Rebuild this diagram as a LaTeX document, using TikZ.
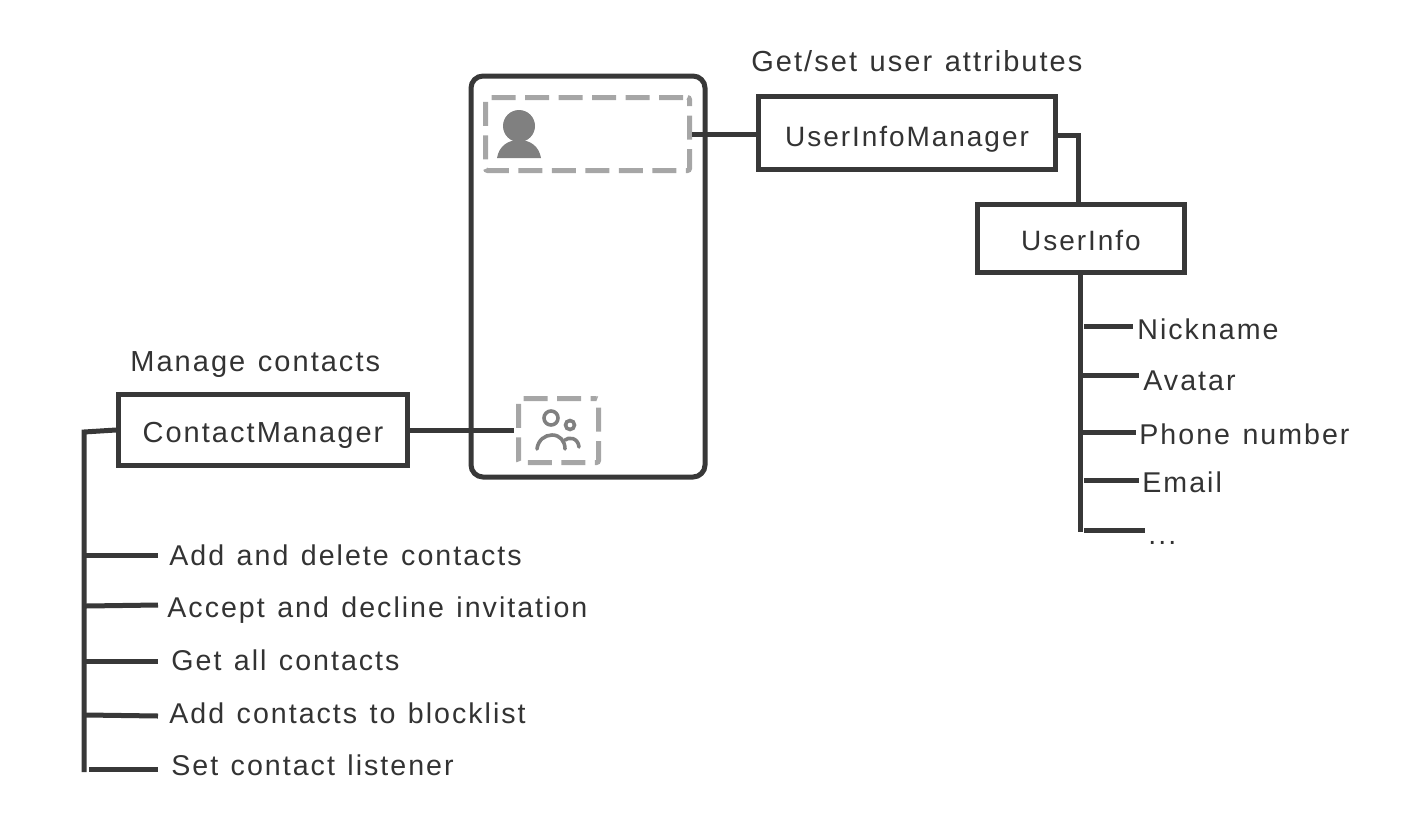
\documentclass[tikz,border=0pt]{standalone}
\usepackage{fontspec}
\setmainfont{Liberation Sans}[LetterSpace=7,WordSpace=1.25]
\definecolor{ink}{HTML}{383838}
\definecolor{txt}{HTML}{333333}
\definecolor{dash}{HTML}{A6A6A6}
\definecolor{icon}{HTML}{808080}
\tikzset{
  px/.style={x=0.5pt,y=-0.5pt},
  box/.style={draw=ink,line width=2.5pt,inner sep=0pt,fill=none,text=txt,text height=12pt,text depth=0pt,font=\fontsize{14}{16}\selectfont},
  dbox/.style={draw=dash,line width=2.5pt,inner sep=0pt,rounded corners=1pt},
  lbl/.style={anchor=base west,inner sep=0pt,text=txt,font=\fontsize{14.3}{16}\selectfont},
  ttl/.style={lbl,font=\fontsize{14.5}{16}\selectfont},
  conn/.style={draw=ink,line width=2.5pt},
  iconline/.style={draw=icon,line width=1.8pt,line cap=round}
}
\newcommand{\rbox}[6]{\node[#1,minimum width=#4*0.5pt,minimum height=#5*0.5pt] (#2) at (#3) {#6};}
\begin{document}
\begin{tikzpicture}[px]
\useasboundingbox (0,0) rectangle (1402,830);
% phone
\rbox{draw=ink,line width=2.5pt,inner sep=0pt,rounded corners=6pt}{phone}{588,276.5}{234}{401}{}
\rbox{dbox,dash pattern=on 12pt off 4.75pt,dash phase=14.5pt}{me}{587.5,134}{204}{73}{}
\rbox{dbox,dash pattern=on 12pt off 4.75pt,dash phase=9pt}{friends}{558.5,430.5}{80}{64}{}
% boxes
\rbox{box,text height=13pt}{uim}{907,133}{297}{73}{UserInfoManager}
\rbox{box}{ui}{1081,238.5}{207}{68}{UserInfo}
\rbox{box,font=\fontsize{14.5}{16}\selectfont}{cm}{263,430}{289}{71}{ContactManager}
% icons
\fill[icon] (519,126) circle (16);
\fill[icon] (497,158) .. controls (499,146) and (508,140) .. (519,140) .. controls (530,140) and (539,146) .. (541,158) -- cycle;
\draw[iconline] (551,418) circle (7);
\draw[iconline] (570,425) circle (4.5);
\draw[iconline] (537,449) .. controls (538,440) and (545,435) .. (552,435) .. controls (560,435) and (565,441) .. (565,449);
\draw[iconline] (565,440) .. controls (568,437) and (578,437) .. (579,447);
% titles
\node[ttl] (t1) at (751,71) {Get/set user attributes};
\node[ttl] (t2) at (130,371) {Manage contacts};
% right list
\node[lbl] (n1) at (1137,339) {Nickname};
\node[lbl] (n2) at (1143,390) {Avatar};
\node[lbl] (n3) at (1139,444) {Phone number};
\node[lbl] (n4) at (1142,492) {Email};
\node[lbl] (n5) at (1148,544) {...};
% left list
\node[lbl] (c1) at (169,565) {Add and delete contacts};
\node[lbl] (c2) at (167,617) {Accept and decline invitation};
\node[lbl] (c3) at (171,670) {Get all contacts};
\node[lbl] (c4) at (169,723) {Add contacts to blocklist};
\node[lbl] (c5) at (171,775) {Set contact listener};
% connectors
\draw[conn] (me.east) -- (me.east -| uim.west);
\draw[conn,shorten >=1pt] (cm.east) -- (cm.east -| friends.west);
\coordinate (uimR) at (1058,135);
\coordinate (uiT) at (1078.5,204);
\draw[conn] (uimR) -| (uiT);
\coordinate (rEnd) at (1080,532);
\draw[conn] (ui.south -| rEnd) -- (rEnd);
\coordinate (cmL) at (116,430);
\coordinate (lEnd) at (84,772);
\draw[conn] (cmL) -- (84,432) -- (lEnd);
% right branches
\foreach \nm/\xa/\xb/\yy in {n1/1084/1133/326,n2/1082/1139/375,n3/1082/1136/432,n4/1084/1139/480,n5/1084/1145/530}{
  \coordinate (a\nm) at (\xa,\yy);
  \coordinate (b\nm) at (\xb,\yy);
  \draw[conn] (a\nm) -- (b\nm);
}
% left branches
\foreach \nm/\xa/\ya/\yb in {c1/86/555/555,c2/86/606/605,c3/86/661/661,c4/86/715/716,c5/89/769/769}{
  \coordinate (a\nm) at (\xa,\ya);
  \coordinate (b\nm) at (158,\yb);
  \draw[conn] (a\nm) -- (b\nm);
}
\end{tikzpicture}
\end{document}
